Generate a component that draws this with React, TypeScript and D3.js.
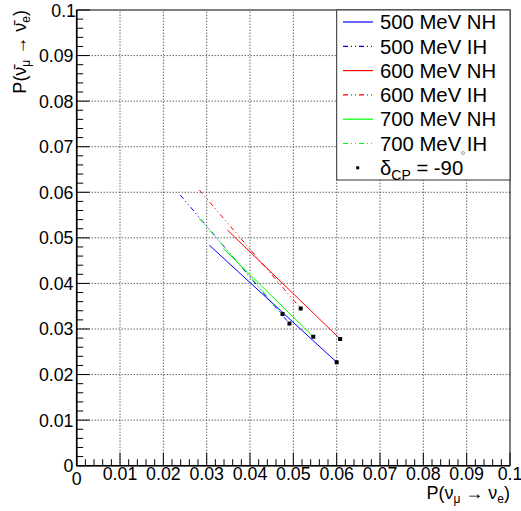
import React from "react";
import * as d3 from "d3";

// Oscillation probabilities P(νμ→νe) vs P(ν̄μ→ν̄e) traced over δCP.
const energies = ["500 MeV", "600 MeV", "700 MeV"];
const colors = ["#0000ff", "#ff0000", "#00ff00"];

// Normal hierarchy: far end of each trace and the δCP = -90 end
const nhStartP = [0.0306, 0.0348, 0.0338];
const nhStartPbar = [0.0484, 0.0517, 0.0477];
const nhEndP = [0.06, 0.0608, 0.0546];
const nhEndPbar = [0.0227, 0.0278, 0.0283];

// Inverted hierarchy
const ihStartP = [0.0239, 0.0283, 0.0283];
const ihStartPbar = [0.0594, 0.0605, 0.0543];
const ihEndP = [0.0491, 0.0517, 0.0475];
const ihEndPbar = [0.0312, 0.0345, 0.0333];

const majorTicks = [0, 0.01, 0.02, 0.03, 0.04, 0.05, 0.06, 0.07, 0.08, 0.09, 0.1];
const tickLabels = ["0", "0.01", "0.02", "0.03", "0.04", "0.05", "0.06", "0.07", "0.08", "0.09", "0.1"];

const W = 521;
const H = 511;
const FONT = "'Liberation Sans', Arial, Helvetica, sans-serif";

export default function App() {
  const x = d3.scaleLinear().domain([0, 0.1]).range([76.7, 510]);
  const y = d3.scaleLinear().domain([0, 0.1]).range([465.7, 10]);
  const minor = d3.range(0, 0.1001, 0.002);
  const line = d3
    .line<[number, number]>()
    .x((d) => x(d[0]))
    .y((d) => y(d[1]));

  const x0 = x(0), x1 = x(0.1), y0 = y(0), y1 = y(0.1);
  const dash = "5,3,1,3,1,3";

  const legendRows = energies.flatMap((e, i) => [
    { label: `${e} NH`, color: colors[i], dashed: false },
    { label: `${e} IH`, color: colors[i], dashed: true },
  ]);
  const lgX0 = 336.7, lgX1 = 510, lgY0 = 10, lgY1 = 180;
  const rowY = (i: number) => 22 + i * 24.3;
  const lgFont = 20.3;

  return (
    <svg
      width={W}
      height={H}
      style={{ position: "absolute", left: 0, top: 0, background: "#fff" }}
      fontFamily={FONT}
    >
      <rect x={0} y={0} width={W} height={H} fill="#fff" />
      {/* grid */}
      {majorTicks.slice(1, -1).map((t) => (
        <g key={`g${t}`} stroke="#222" strokeWidth={1} strokeDasharray="1,2">
          <line x1={x(t)} x2={x(t)} y1={y0} y2={y1} />
          <line x1={x0} x2={x1} y1={y(t)} y2={y(t)} />
        </g>
      ))}
      {/* frame */}
      <rect x={x0} y={y1} width={x1 - x0} height={y0 - y1} fill="none" stroke="#000" strokeWidth={1} />
      <line x1={x0} x2={x1} y1={y0} y2={y0} stroke="#000" strokeWidth={1.6} />
      <line x1={x0} x2={x0} y1={y0} y2={y1} stroke="#000" strokeWidth={1.6} />
      {/* ticks */}
      {minor.map((t, i) => {
        const len = i % 5 === 0 ? 13 : 6.5;
        return (
          <g key={`t${i}`} stroke="#000" strokeWidth={1}>
            <line x1={x(t)} x2={x(t)} y1={y0} y2={y0 - len} />
            <line x1={x0} x2={x0 + len} y1={y(t)} y2={y(t)} />
          </g>
        );
      })}
      {/* tick labels */}
      {majorTicks.map((t, i) => (
        <text key={`xl${i}`} x={x(t)} y={i === 0 ? 485 : 480} fontSize={17.8} textAnchor="middle">
          {tickLabels[i]}
        </text>
      ))}
      {majorTicks.map((t, i) => (
        <text
          key={`yl${i}`}
          x={i === majorTicks.length - 1 ? 76 : 73.5}
          y={y(t) + 6.5}
          fontSize={17.8}
          textAnchor="end"
        >
          {tickLabels[i]}
        </text>
      ))}
      {/* axis titles */}
      <text x={510} y={499} fontSize={18} textAnchor="end">
        P(ν<tspan fontSize={12} dy={4}>μ</tspan>
        <tspan dy={-4}> → ν</tspan>
        <tspan fontSize={12} dy={4}>e</tspan>
        <tspan dy={-4}>)</tspan>
      </text>
      <text transform="translate(26,10) rotate(-90)" fontSize={18} textAnchor="end">
        {"P(ν\u0304"}
        <tspan fontSize={12} dy={4}>μ</tspan>
        <tspan dy={-4}>{" → ν\u0304"}</tspan>
        <tspan fontSize={12} dy={4}>e</tspan>
        <tspan dy={-4}>)</tspan>
      </text>
      {/* traces */}
      {energies.map((e, i) => (
        <g key={`nh${e}`}>
          <path
            d={line([[nhStartP[i], nhStartPbar[i]], [nhEndP[i], nhEndPbar[i]]]) || ""}
            stroke={colors[i]}
            strokeWidth={1}
            fill="none"
          />
          <path
            d={line([[ihStartP[i], ihStartPbar[i]], [ihEndP[i], ihEndPbar[i]]]) || ""}
            stroke={colors[i]}
            strokeWidth={1}
            strokeDasharray={dash}
            fill="none"
          />
        </g>
      ))}
      {/* δCP = -90 markers */}
      {energies.map((e, i) => (
        <g key={`m${e}`} fill="#000">
          <rect x={x(nhEndP[i]) - 2} y={y(nhEndPbar[i]) - 2} width={4} height={4} />
          <rect x={x(ihEndP[i]) - 2} y={y(ihEndPbar[i]) - 2} width={4} height={4} />
        </g>
      ))}
      {/* legend */}
      <rect x={lgX0} y={lgY0} width={lgX1 - lgX0} height={lgY1 - lgY0} fill="#fff" stroke="#333" strokeWidth={1} />
      {legendRows.map((r, i) => (
        <g key={r.label}>
          <line
            x1={343}
            x2={373}
            y1={rowY(i)}
            y2={rowY(i)}
            stroke={r.color}
            strokeWidth={1.2}
            strokeDasharray={r.dashed ? dash : undefined}
          />
          <text x={380} y={rowY(i) + 7.2} fontSize={lgFont}>
            {r.label}
          </text>
        </g>
      ))}
      <circle cx={463} cy={153} r={1.5} fill="none" stroke="#888" strokeWidth={0.8} />
      <rect x={356.2} y={rowY(6) - 1.5} width={3} height={3} fill="#000" />
      <text x={380} y={rowY(6) + 7.2} fontSize={lgFont}>
        δ<tspan fontSize={14} dy={5}>CP</tspan>
        <tspan dy={-5}> = -90</tspan>
      </text>
    </svg>
  );
}
